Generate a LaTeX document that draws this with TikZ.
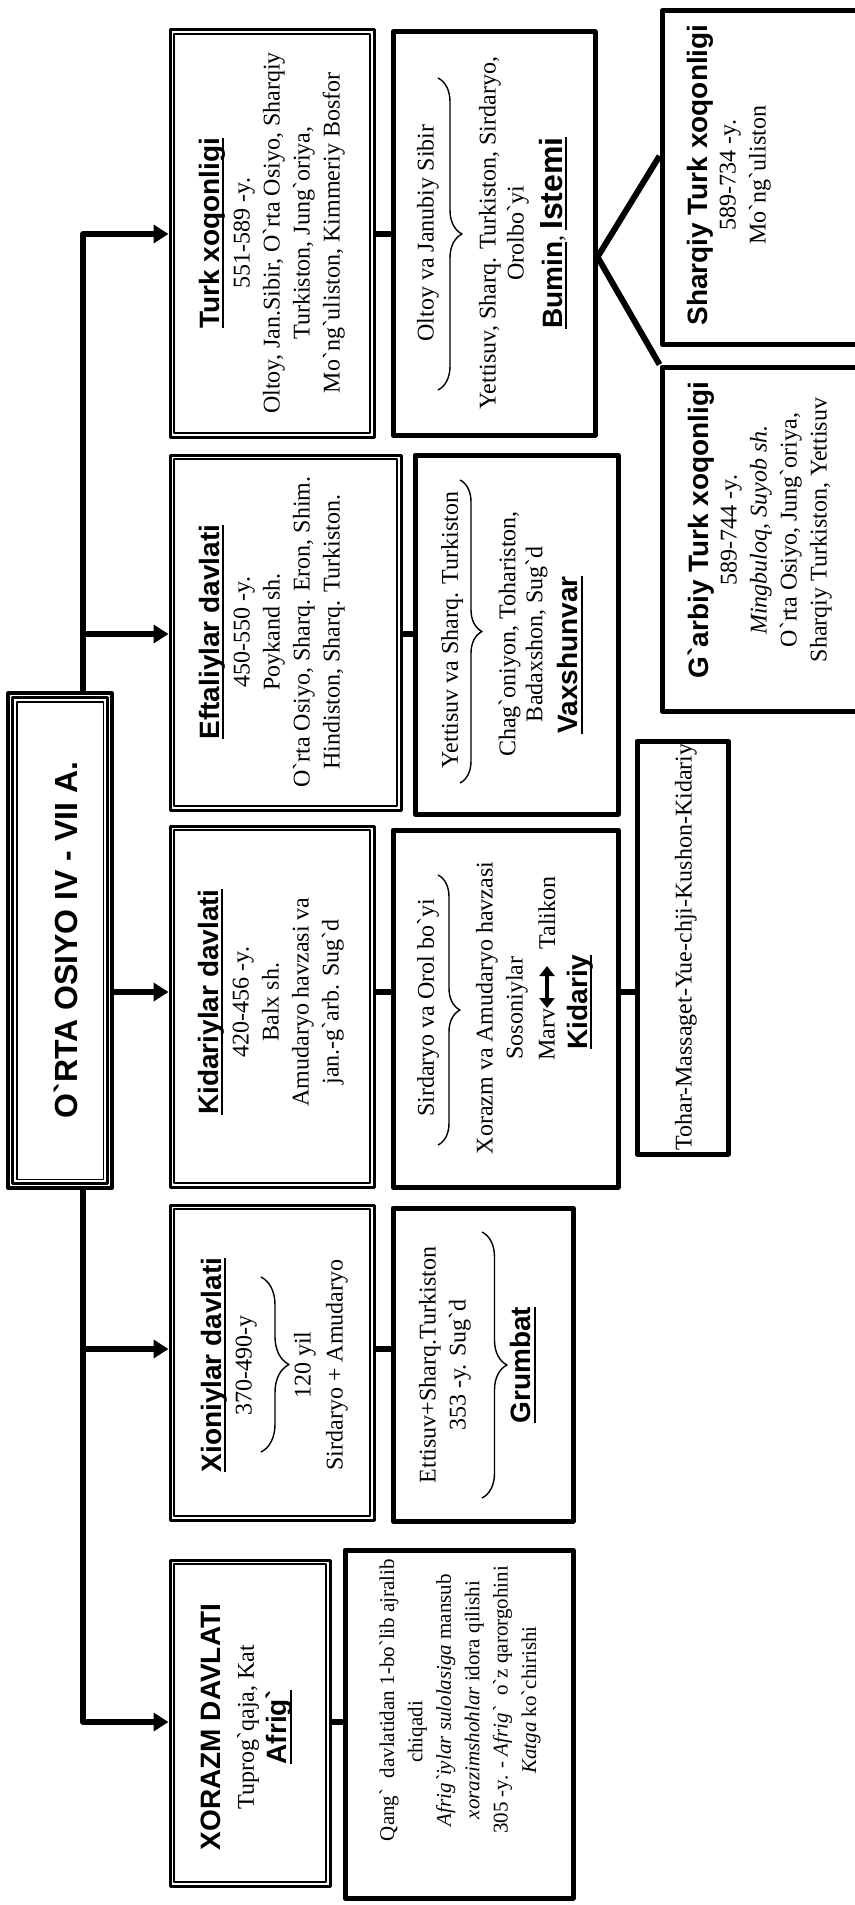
\documentclass[tikz,border=0pt]{standalone}
\usepackage{fontspec}
\setmainfont{Liberation Serif}[Ligatures=TeXOff]
\setsansfont{Liberation Sans}[Ligatures=TeXOff]
\usetikzlibrary{arrows.meta,decorations.pathreplacing,fit}
\newsavebox\ulbox
\newcommand\hd[1]{{\sffamily\bfseries\fontsize{14}{17}\selectfont #1}}
\newcommand\uln[1]{\sbox\ulbox{#1}\rlap{\rule[-2.4pt]{\wd\ulbox}{1pt}}\usebox\ulbox}
\newcommand\uhd[1]{\uln{\hd{#1}}}
\begin{document}
\begin{tikzpicture}[x=0.5pt,y=-0.5pt,line join=round,
  mbox/.style={draw,line width=1.5pt,fill=white,inner sep=0pt},
  sbox/.style={draw,line width=2.5pt,fill=white,inner sep=0pt},
  innerline/.style={line width=1pt},
  conn/.style={line width=3pt},
  arr/.style={line width=3pt,-{Triangle[length=7.5pt,width=9pt]}},
  txt/.style={rotate=90,align=center,inner sep=0pt,font=\fontsize{12}{15}\selectfont},
  brc/.style={decorate,line width=0.7pt},
  dbl/.style={line width=2pt,{Triangle[length=5pt,width=7.5pt]}-{Triangle[length=5pt,width=7.5pt]}}]
\useasboundingbox (0,0) rectangle (855,1905);

% main state boxes
\node[mbox,fit={(170,30) (374,437)}] (turk) {};
\node[mbox,fit={(170,455) (401,810)}] (eft) {};
\node[mbox,fit={(170,826) (374,1187)}] (kid) {};
\node[mbox,fit={(170,1205) (374,1520)}] (xio) {};
\node[mbox,fit={(170,1560) (330,1886)}] (xor) {};
\foreach \n in {turk,eft,kid,xio,xor}
  \draw[innerline] ([shift={(5.5,5.5)}]\n.north west) rectangle ([shift={(-5.5,-5.5)}]\n.south east);

% second level boxes
\node[sbox,fit={(393,32) (595,435)}] (tsub) {};
\node[sbox,fit={(415,455) (618,814)}] (esub) {};
\node[sbox,fit={(393,830) (618,1187)}] (ksub) {};
\node[sbox,fit={(393,1208) (573,1521)}] (xsub) {};
\node[sbox,fit={(345,1550) (573,1898)}] (zsub) {};
\node[sbox,fit={(637,741) (728,1154)}] (tohar) {};
\node[sbox,fit={(662,11) (880,344)}] (sharq) {};
\node[sbox,fit={(662,367) (880,711)}] (garb) {};

% connectors
\coordinate (tmid) at (83,940);
\coordinate (rT) at (83,234);
\coordinate (rE) at (83,634);
\coordinate (rK) at (83,992);
\coordinate (rX) at (83,1349);
\coordinate (rZ) at (83,1722);
\coordinate (fk) at (595,257);
\coordinate (fa) at (662,156);
\draw[arr] (tmid) -- (rT) -- (turk.west |- rT);
\draw[arr] (tmid) -- (rZ) -- (xor.west |- rZ);
\draw[arr] (rE) -- (eft.west |- rE);
\draw[arr] (rK) -- (kid.west |- rK);
\draw[arr] (rX) -- (xio.west |- rX);
\draw[conn] (turk.east |- rT) -- (tsub.west |- rT);
\draw[conn] (eft.east |- rE) -- (esub.west |- rE);
\draw[conn] (kid.east |- rK) -- (ksub.west |- rK);
\draw[conn] (ksub.east |- rK) -- (tohar.west |- rK);
\draw[conn] (xio.east |- rX) -- (xsub.west |- rX);
\draw[conn] (xor.east |- rZ) -- (zsub.west |- rZ);
\draw[conn] (sharq.west |- fa) -- (tsub.east |- fk) -- (garb.north west);

% title box
\node[mbox,line width=1.6pt,fit={(8,693) (112,1188)}] (title) {};
\draw[line width=1.5pt] ([shift={(6,6)}]title.north west) rectangle ([shift={(-6,-6)}]title.south east);
\draw[line width=0.6pt] ([shift={(10.5,10.5)}]title.north west) rectangle ([shift={(-10.5,-10.5)}]title.south east);
\node[txt,font=\sffamily\bfseries\fontsize{16}{19}\selectfont] (titleT) at (66,940) {O`RTA OSIYO IV - VII A.};

% texts of main boxes
\node[txt] (turkT) at (272,233) {\uhd{Turk xoqonligi}\\551-589 -y.\\Oltoy, Jan.Sibir, O`rta Osiyo, Sharqiy\\Turkiston, Jung`oriya,\\Mo`ng`uliston, Kimmeriy Bosfor};
\node[txt] (eftT) at (272,632) {\uhd{Eftaliylar davlati}\\450-550 -y.\\Poykand sh.\\O`rta Osiyo, Sharq. Eron, Shim.\\Hindiston, Sharq. Turkiston.};
\node[txt] (kidT) at (271,1002) {\uhd{Kidariylar davlati}\\420-456 -y.\\Balx sh.\\Amudaryo havzasi va\\jan.-g`arb. Sug`d};
\node[txt] (xioA) at (229,1365) {\uhd{Xioniylar davlati}\\370-490-y};
\draw[brc,decoration={brace,amplitude=14pt}] (261,1277) -- (261,1452);
\node[txt] (xioB) at (321,1365) {120 yil\\[1pt]Sirdaryo + Amudaryo};
\node[txt] (xorT) at (247,1727) {\hd{XORAZM DAVLATI}\\[1.5pt]Tuprog`qaja, Kat\\[1.5pt]\uhd{Afrig`}};

% texts of second level boxes
\node[txt] (tsubA) at (428,233) {Oltoy va Janubiy Sibir};
\draw[brc,decoration={brace,amplitude=12pt}] (438,78) -- (438,390);
\node[txt] (tsubB) at (504,233) {Yettisuv, Sharq. Turkiston, Sirdaryo,\\[-1pt]Orolbo`yi};
\node[txt] (bum) at (553,233) {\uhd{Bumin}, \uln{\sffamily\bfseries\fontsize{16}{19}\selectfont Istemi}};

\node[txt] (esubA) at (452,630) {Yettisuv va Sharq. Turkiston};
\draw[brc,decoration={brace,amplitude=11pt}] (460,480) -- (460,783);
\node[txt] (esubB) at (523,634) {Chag`oniyon, Tohariston,\\[-1.5pt]Badaxshon, Sug`d};
\node[txt] (vax) at (570,655) {\uhd{Vaxshunvar}};

\node[txt] (ksubA) at (428,1008) {Sirdaryo va Orol bo`yi};
\draw[brc,decoration={brace,amplitude=11pt}] (438,875) -- (438,1145);
\node[txt] (ksubB) at (502,1008) {Xorazm va Amudaryo havzasi\\Sosoniylar};
\node[txt,anchor=east] (marv) at (547,1008) {Marv};
\node[txt,anchor=west] (tal) at (547,950) {Talikon};
\draw[dbl,shorten >=8pt] (marv.east) -- (tal.west);
\node[txt] (kidy) at (580,1002) {\uhd{Kidariy}};

\node[txt] (xsubA) at (445,1365) {Ettisuv+Sharq.Turkiston\\353 -y. Sug`d};
\draw[brc,decoration={brace,amplitude=12.5pt}] (482,1232) -- (482,1498);
\node[txt] (xsubB) at (523,1365) {\uhd{Grumbat}};

\node[txt,font=\fontsize{10.5}{14.2}\selectfont] (zsubT) at (460,1700) {Qang`\ \ davlatidan 1-bo`lib ajralib\\chiqadi\rule{32pt}{0pt}\\\textit{Afrig`iylar sulolasiga} mansub\\\textit{xorazimshohlar} idora qilishi\\305 -y. - \textit{Afrig`}\ \ o`z qarorgohini\\\textit{Katga} ko`chirishi};

\node[txt] (toharT) at (686,947) {Tohar-Massaget-Yue-chji-Kushon-Kidariy};

% third level texts
\node[txt] (sharqT) at (729,175) {\hd{Sharqiy Turk xoqonligi}\\[-1pt]589-734 -y.\\Mo`ng`uliston};
\node[txt] (garbT) at (760,530) {\hd{G`arbiy Turk xoqonligi}\\[-1pt]589-744 -y.\\\textit{Mingbuloq, Suyob sh.}\\O`rta Osiyo, Jung`oriya,\\Sharqiy Turkiston, Yettisuv};
\end{tikzpicture}
\end{document}
